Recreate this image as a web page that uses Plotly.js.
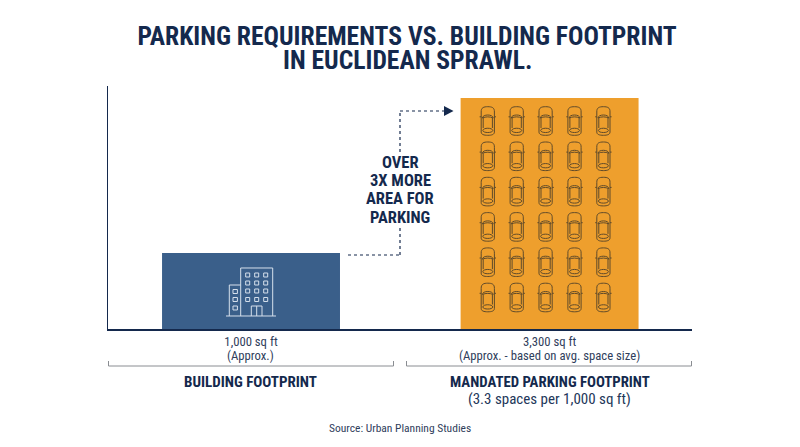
<!DOCTYPE html>
<html>
<head>
<meta charset="utf-8">
<script src="https://cdn.plot.ly/plotly-3.0.1.min.js"></script>
<style>html, body { margin: 0; padding: 0; background: #fff; }</style>
</head>
<body>
<div id="chart" style="width:800px;height:447px;"></div>
<script>
var categories = ['BUILDING FOOTPRINT', 'MANDATED PARKING FOOTPRINT']
// bar heights as drawn in the picture (the tall one is not quite 3.3x the short one)
var barValues = [1000, 3040]
var areaLabels = ['1,000 sq ft', '3,300 sq ft']
var areaNotes = ['(Approx.)', '(Approx. - based on avg. space size)']
var barColors = ['#3a5f8a', '#ee9f2d']
var calloutLines = ['OVER', '3X MORE', 'AREA FOR', 'PARKING']
var sourceText = 'Source: Urban Planning Studies'
var titleLines = ['PARKING REQUIREMENTS VS. BUILDING FOOTPRINT', 'IN EUCLIDEAN SPRAWL.']
var subLabel = '(3.3 spaces per 1,000 sq ft)'

var NAVY = '#14294d'
var NARROW = '"Roboto Condensed", "Liberation Sans Narrow", "Arial Narrow", sans-serif'
var W = 800, H = 447
var L = 108, R = 692, T = 86, B = 329

// page pixels to paper coords, for the decoration
function px(x) { return (x - L) / (R - L) }
function py(y) { return (B - y) / (B - T) }
function P(x, y) { return px(x).toFixed(5) + ',' + py(y).toFixed(5) }

function line(x0, y0, x1, y1, color, width, dash) {
    return {
        type: 'line', xref: 'paper', yref: 'paper',
        x0: px(x0), y0: py(y0), x1: px(x1), y1: py(y1),
        line: {color: color, width: width, dash: dash || 'solid'}
    }
}
function pathShape(d, color, width, fill) {
    return {
        type: 'path', xref: 'paper', yref: 'paper', path: d,
        line: {color: color, width: width},
        fillcolor: fill || 'rgba(0,0,0,0)'
    }
}
function rect(x0, y0, x1, y1) {
    return 'M' + P(x0, y0) + ' L' + P(x1, y0) + ' L' + P(x1, y1) + ' L' + P(x0, y1) + ' Z '
}

function carPath(cx, cy) {
    var d = ''
    function p(dx, dy) { return P(cx + dx, cy + dy) }
    // body
    d += 'M' + p(-6.6, -9) + ' C' + p(-6.8, -13.5) + ' ' + p(-4, -14.3) + ' ' + p(0, -14.3) +
        ' C' + p(4, -14.3) + ' ' + p(6.8, -13.5) + ' ' + p(6.6, -9) +
        ' L' + p(6.6, 11) + ' C' + p(6.6, 13.5) + ' ' + p(4, 14.3) + ' ' + p(0, 14.3) +
        ' C' + p(-4, 14.3) + ' ' + p(-6.6, 13.5) + ' ' + p(-6.6, 11) + ' Z '
    // windshield
    d += 'M' + p(-5.4, -3) + ' C' + p(-5.3, -7) + ' ' + p(5.3, -7) + ' ' + p(5.4, -3) + ' '
    d += 'M' + p(-5.4, -3) + ' C' + p(-2, -4.5) + ' ' + p(2, -4.5) + ' ' + p(5.4, -3) + ' '
    // cabin sides
    d += 'M' + p(-4.6, -3) + ' L' + p(-4.6, 7) + ' M' + p(4.6, -3) + ' L' + p(4.6, 7) + ' '
    // rear window
    d += 'M' + p(-5, 9.5) + ' C' + p(-4.8, 6.5) + ' ' + p(4.8, 6.5) + ' ' + p(5, 9.5) +
        ' C' + p(4.8, 12.2) + ' ' + p(-4.8, 12.2) + ' ' + p(-5, 9.5) + ' Z '
    // mirrors
    d += 'M' + p(-8.2, -4.2) + ' L' + p(-6.6, -4.2) + ' M' + p(6.6, -4.2) + ' L' + p(8.2, -4.2) + ' '
    return d
}

function buildingPath() {
    var d = ''
    d += 'M' + P(226, 316) + ' L' + P(276, 316) + ' '
    d += 'M' + P(240.7, 316) + ' L' + P(240.7, 268) + ' L' + P(272.7, 268) + ' L' + P(272.7, 316) + ' '
    d += 'M' + P(240.7, 285) + ' L' + P(229.3, 285) + ' L' + P(229.3, 316) + ' '
    var cols = [247.7, 256.7, 265.7], rows = [275, 283, 291, 299.5]
    rows.forEach(function (wy) {
        cols.forEach(function (wx) { d += rect(wx - 2, wy - 2, wx + 2, wy + 2) })
    })
    ;[291.5, 299.5, 308].forEach(function (wy) { d += rect(233, wy - 2, 237.4, wy + 2) })
    d += 'M' + P(251.3, 316) + ' L' + P(251.3, 306) + ' L' + P(262, 306) + ' L' + P(262, 316) + ' '
    d += 'M' + P(256.7, 306) + ' L' + P(256.7, 316) + ' '
    return d
}

var shapes = []
shapes.push(pathShape(buildingPath(), '#d6e0ec', 1))
for (var r = 0; r < 6; r++) {
    for (var c = 0; c < 5; c++) {
        shapes.push(pathShape(carPath(487.8 + c * 28.9, 121 + r * 35.3), '#5f4a2a', 1))
    }
}
// brackets under the axis
var GREY = '#8a8d92'
shapes.push(line(108.5, 361, 108.5, 366, GREY, 1))
shapes.push(line(108.5, 366, 393.5, 366, GREY, 1))
shapes.push(line(393.5, 361, 393.5, 366, GREY, 1))
shapes.push(line(406.5, 361, 406.5, 366, GREY, 1))
shapes.push(line(406.5, 366, 691.5, 366, GREY, 1))
shapes.push(line(691.5, 361, 691.5, 366, GREY, 1))
// dotted connector
shapes.push(line(348, 255, 400, 255, NAVY, 1.2, 'dot'))
shapes.push(line(400, 255, 400, 228, NAVY, 1.2, 'dot'))
shapes.push(line(400, 152, 400, 111, NAVY, 1.2, 'dot'))
shapes.push(line(400, 111, 444, 111, NAVY, 1.2, 'dot'))
shapes.push(pathShape('M' + P(444, 106) + ' L' + P(453.5, 111) + ' L' + P(444, 116) + ' Z', NAVY, 0, NAVY))

function note(text, x, y, size, bold, color) {
    return {
        xref: 'paper', yref: 'paper', x: px(x), y: py(y), xanchor: 'center', yanchor: 'middle',
        text: bold ? '<b>' + text + '</b>' : text, showarrow: false, align: 'center',
        font: {family: NARROW, size: size, color: color || NAVY}
    }
}

var annotations = [
    note(titleLines[1], 407, 60, 25.6, true),
    note(areaNotes[0], 250.7, 355, 12.7, false, '#30405c'),
    note(areaNotes[1], 549.5, 355, 12.7, false, '#30405c'),
    note(categories[0], 250.5, 382, 15, true),
    note(categories[1], 549.5, 382, 14.8, true),
    note(subLabel, 549.5, 398.5, 15, false, '#23375a'),
    note(sourceText, 400, 428, 11.5, false, '#30405c')
]
calloutLines.forEach(function (txt, i) {
    annotations.push(note(txt, 400, 162 + i * 18.4, 16.5, true))
})

var trace = {
    type: 'bar',
    x: categories,
    y: barValues,
    width: 0.596,
    marker: {color: barColors, line: {width: 0}},
    hoverinfo: 'skip'
}

var layout = {
    width: W, height: H,
    margin: {l: L, r: W - R, t: T, b: H - B, pad: 0},
    paper_bgcolor: '#fff', plot_bgcolor: '#fff',
    showlegend: false,
    title: {
        text: '<b>' + titleLines[0] + '</b>',
        xref: 'container', yref: 'container', x: 407 / W, xanchor: 'center',
        y: 1 - 36 / H, yanchor: 'middle',
        font: {family: NARROW, size: 25.6, color: NAVY}
    },
    xaxis: {
        type: 'category',
        range: [-0.479, 1.477],
        tickmode: 'array', tickvals: categories, ticktext: areaLabels,
        ticks: '', showgrid: false, zeroline: false,
        showline: true, linecolor: NAVY, linewidth: 1.5,
        tickfont: {family: NARROW, size: 12.7, color: '#30405c'}
    },
    yaxis: {
        range: [0, 3197],
        showticklabels: false, ticks: '', showgrid: false, zeroline: false,
        showline: true, linecolor: NAVY, linewidth: 1.5
    },
    shapes: shapes,
    annotations: annotations
}

Plotly.newPlot('chart', [trace], layout, {displayModeBar: false, staticPlot: true})
</script>
</body>
</html>
